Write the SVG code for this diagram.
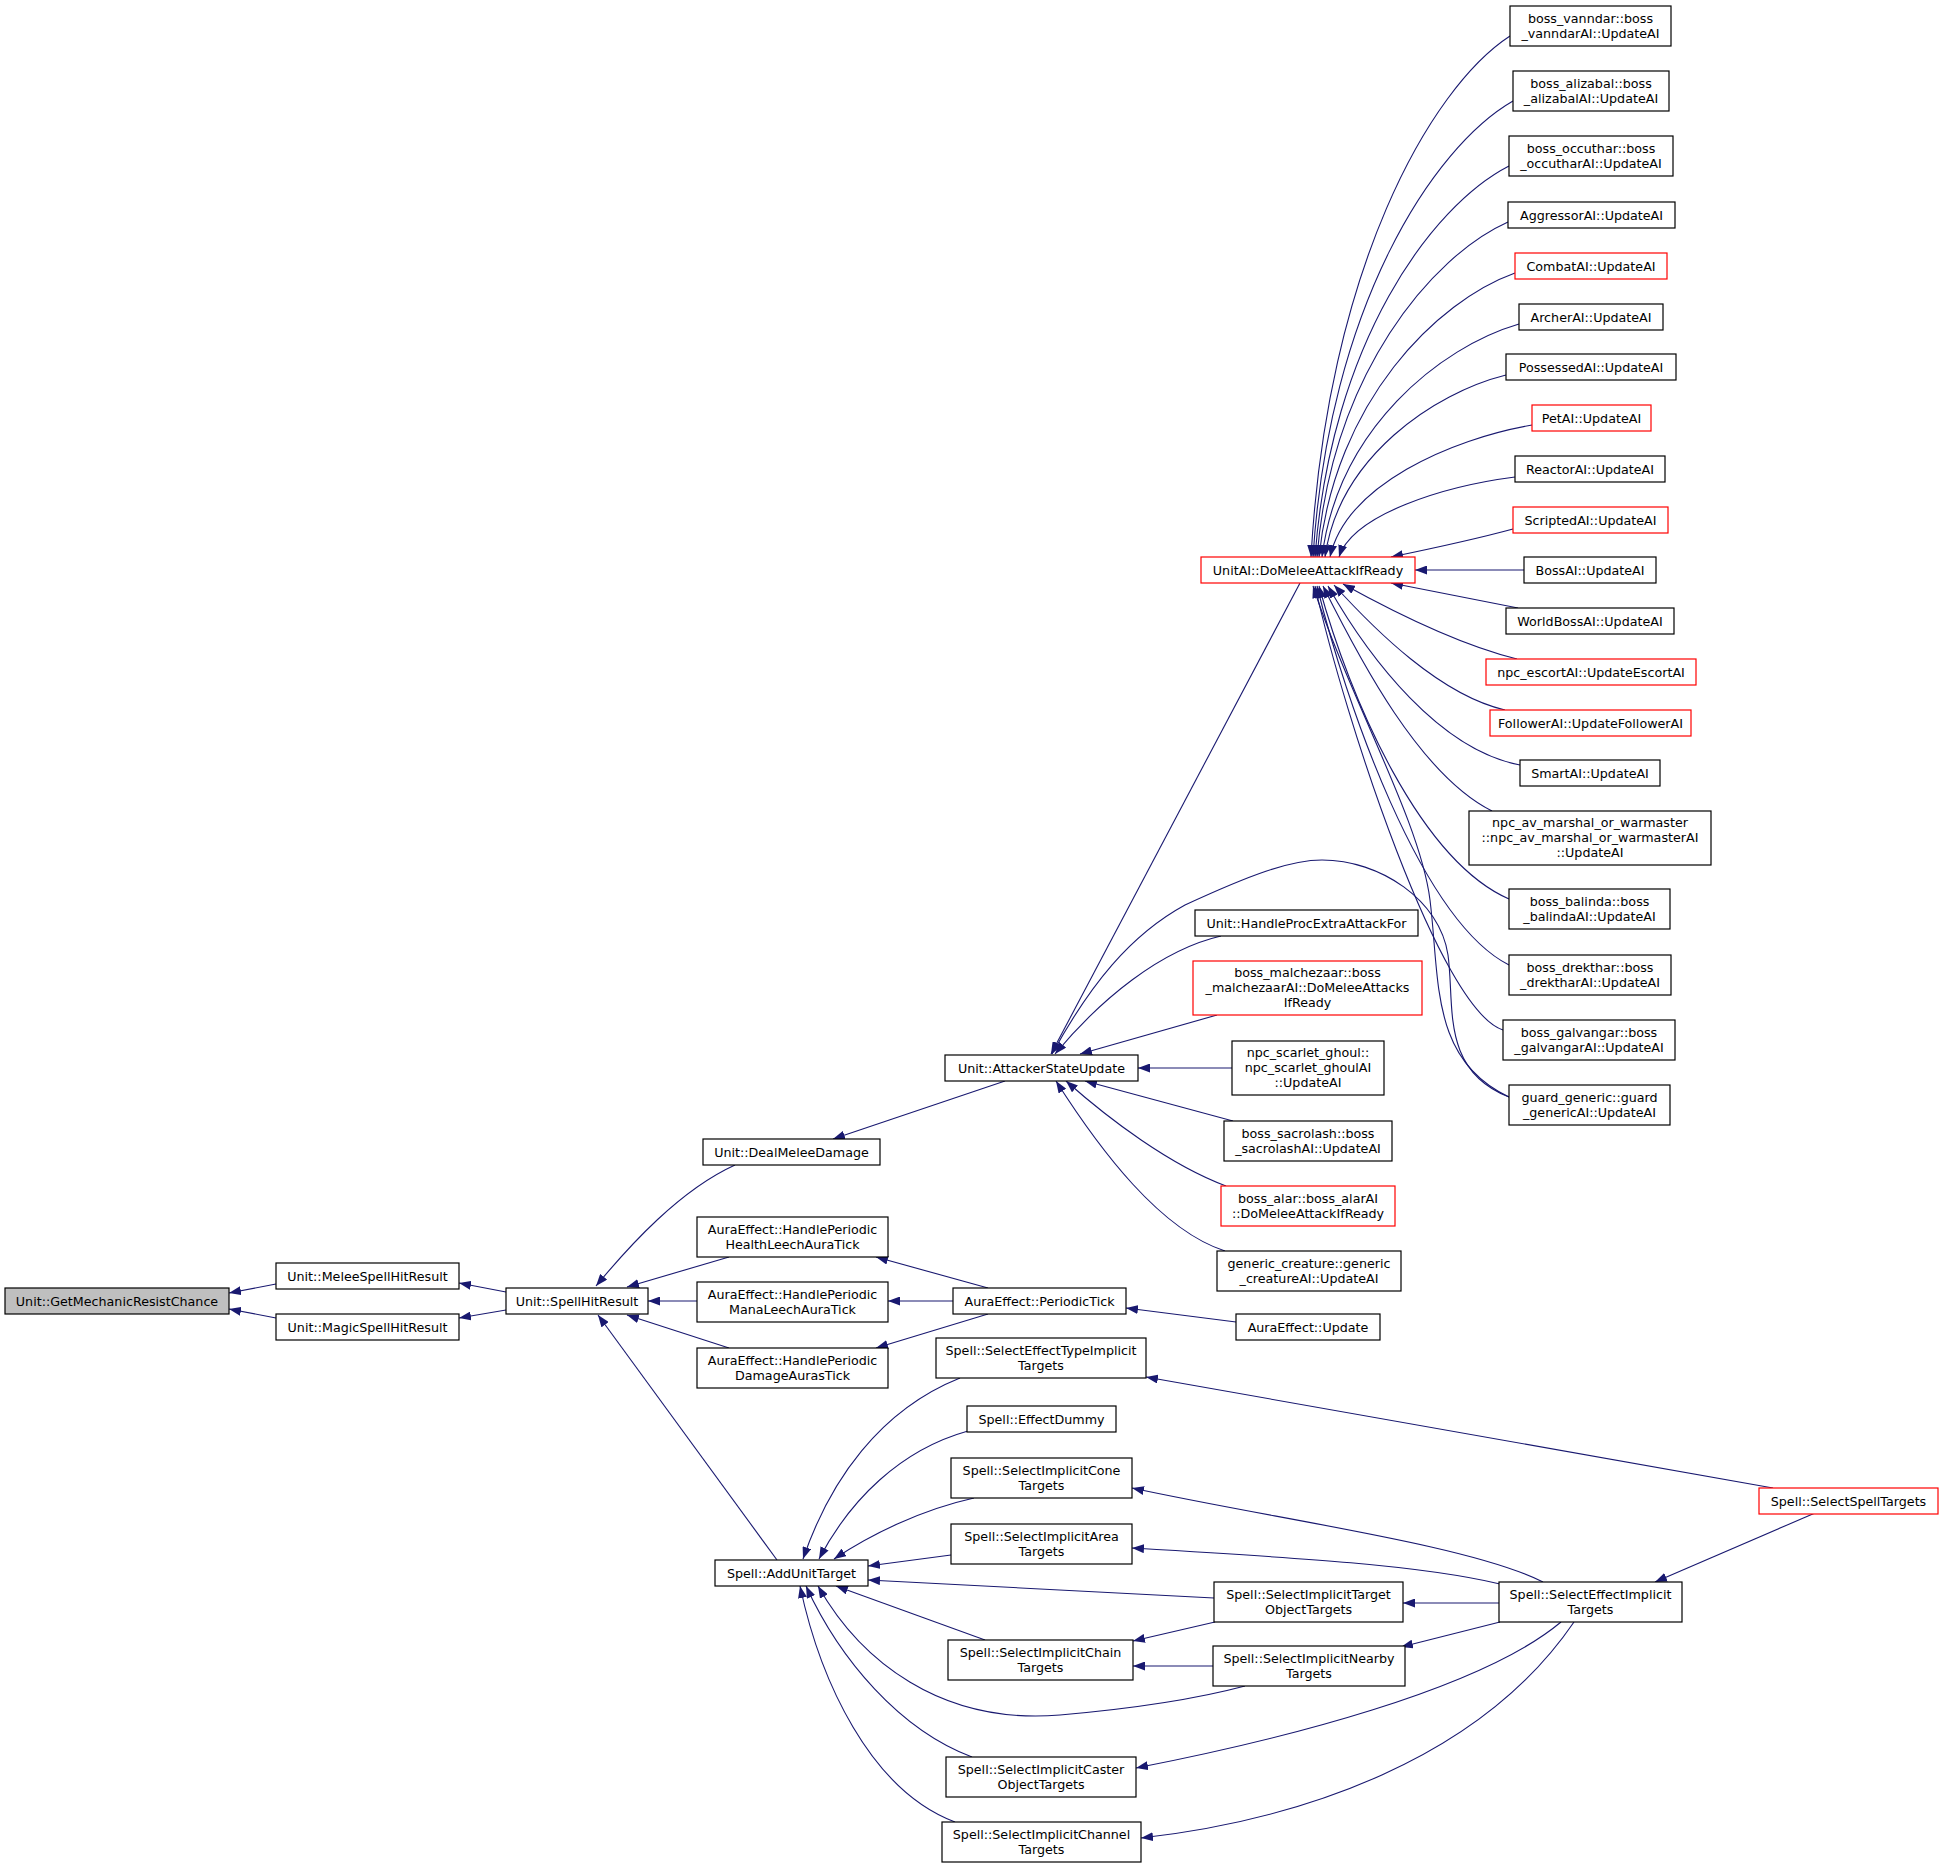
<svg xmlns="http://www.w3.org/2000/svg" width="1944" height="1869" viewBox="0 0 1944 1869">
<style>
.n rect{fill:#fff;stroke:#000;stroke-width:1.2}
.n.r rect{stroke:#ff0000}
.n.g rect{fill:#bfbfbf}
.n text{font-family:"DejaVu Sans",sans-serif;font-size:12.7px;fill:#000;text-anchor:middle}
#edges path{fill:none;stroke:#191970;stroke-width:1.1;marker-start:url(#ah)}
</style>
<defs>
<marker id="ah" markerWidth="12" markerHeight="9" refX="12" refY="4.5" orient="auto-start-reverse" markerUnits="userSpaceOnUse" viewBox="0 0 12 9">
<path d="M0,0 L12,4.5 L0,9 z" fill="#191970"/>
</marker>
</defs>
<rect width="1944" height="1869" fill="#fff"/>
<g id="edges">
<path d="M229,1293 L276,1284"/>
<path d="M229,1309 L276,1318"/>
<path d="M459,1283 L506,1292"/>
<path d="M459,1318 L506,1310"/>
<path d="M596,1286 C630,1245 680,1190 735,1165"/>
<path d="M627,1287 L729,1257"/>
<path d="M648,1301 L697,1301"/>
<path d="M627,1315 L729,1348"/>
<path d="M598,1315 L777,1560"/>
<path d="M833,1139 L1005,1081"/>
<path d="M876,1257 L988,1288"/>
<path d="M888,1301 L953,1301"/>
<path d="M876,1348 L988,1314"/>
<path d="M1126,1308 L1236,1322"/>
<path d="M1051,1054 L1300,583"/>
<path d="M1055,1054 C1100,1000 1160,950 1221,936"/>
<path d="M1080,1054 L1217,1015"/>
<path d="M1138,1068 L1232,1068"/>
<path d="M1085,1081 L1233,1121"/>
<path d="M1066,1081 C1110,1120 1170,1165 1226,1186"/>
<path d="M1056,1081 C1100,1150 1160,1230 1225,1251"/>
<path d="M1052,1054 C1090,985 1130,935 1185,905 C1250,875 1290,860 1322,860 C1380,860 1440,900 1448,955 C1455,1005 1440,1070 1509,1097"/>
<path d="M1311,557 C1327,270 1430,88 1510,36"/>
<path d="M1313,557 C1329,306 1433,147 1513,101"/>
<path d="M1315,557 C1331,343 1431,206 1509,166"/>
<path d="M1317,557 C1332,373 1432,256 1508,222"/>
<path d="M1319,557 C1335,401 1437,301 1515,273"/>
<path d="M1322,557 C1338,429 1440,347 1519,324"/>
<path d="M1325,557 C1339,457 1434,393 1506,375"/>
<path d="M1330,557 C1346,485 1451,439 1532,425"/>
<path d="M1339,557 C1353,514 1445,486 1515,477"/>
<path d="M1391,557 C1420,551 1480,538 1513,529"/>
<path d="M1415,570 L1524,570"/>
<path d="M1391,583 L1518,608"/>
<path d="M1343,584 C1390,610 1460,645 1517,659"/>
<path d="M1334,585 C1375,630 1440,695 1505,710"/>
<path d="M1328,586 C1370,660 1440,750 1520,765"/>
<path d="M1323,586 C1360,660 1420,775 1492,811"/>
<path d="M1319,586 C1350,700 1420,860 1509,899"/>
<path d="M1317,586 C1345,700 1420,920 1509,965"/>
<path d="M1315,586 C1345,720 1440,1010 1503,1030"/>
<path d="M1313,586 C1350,700 1420,820 1430,900 C1440,980 1430,1060 1509,1097"/>
<path d="M803,1559 C830,1480 880,1410 960,1378"/>
<path d="M819,1559 C850,1500 900,1450 968,1431"/>
<path d="M834,1559 C870,1535 920,1510 974,1498"/>
<path d="M868,1566 L951,1555"/>
<path d="M868,1580 L1214,1598"/>
<path d="M836,1586 L985,1640"/>
<path d="M818,1586 C860,1660 940,1725 1060,1715 C1140,1708 1200,1698 1245,1686"/>
<path d="M806,1586 C840,1660 900,1730 972,1757"/>
<path d="M800,1586 C820,1680 870,1790 955,1822"/>
<path d="M1146,1377 L1773,1488"/>
<path d="M1655,1582 L1815,1513"/>
<path d="M1132,1488 C1280,1520 1470,1545 1543,1582"/>
<path d="M1132,1548 C1300,1558 1420,1565 1500,1584"/>
<path d="M1403,1603 L1499,1603"/>
<path d="M1133,1641 L1215,1622"/>
<path d="M1133,1666 L1213,1666"/>
<path d="M1401,1647 L1500,1622"/>
<path d="M1136,1768 C1280,1740 1480,1690 1561,1622"/>
<path d="M1141,1838 C1300,1820 1480,1760 1574,1622"/>
</g>
<g id="n_getmech" class="n g"><rect x="5" y="1288" width="224" height="26"/><text x="117" y="1305.5">Unit::GetMechanicResistChance</text></g>
<g id="n_melee" class="n"><rect x="276" y="1263" width="183" height="26"/><text x="367.5" y="1280.5">Unit::MeleeSpellHitResult</text></g>
<g id="n_magic" class="n"><rect x="276" y="1314" width="183" height="26"/><text x="367.5" y="1331.5">Unit::MagicSpellHitResult</text></g>
<g id="n_shr" class="n"><rect x="506" y="1288" width="142" height="26"/><text x="577" y="1305.5">Unit::SpellHitResult</text></g>
<g id="n_dealmelee" class="n"><rect x="703" y="1139" width="177" height="26"/><text x="791.5" y="1156.5">Unit::DealMeleeDamage</text></g>
<g id="n_healthleech" class="n"><rect x="697" y="1217" width="191" height="40"/><text x="792.5" y="1233.5">AuraEffect::HandlePeriodic</text><text x="792.5" y="1248.5">HealthLeechAuraTick</text></g>
<g id="n_manaleech" class="n"><rect x="697" y="1282" width="191" height="40"/><text x="792.5" y="1298.5">AuraEffect::HandlePeriodic</text><text x="792.5" y="1313.5">ManaLeechAuraTick</text></g>
<g id="n_damageauras" class="n"><rect x="697" y="1348" width="191" height="40"/><text x="792.5" y="1364.5">AuraEffect::HandlePeriodic</text><text x="792.5" y="1379.5">DamageAurasTick</text></g>
<g id="n_addunit" class="n"><rect x="715" y="1560" width="153" height="26"/><text x="791.5" y="1577.5">Spell::AddUnitTarget</text></g>
<g id="n_asu" class="n"><rect x="945" y="1055" width="193" height="26"/><text x="1041.5" y="1072.5">Unit::AttackerStateUpdate</text></g>
<g id="n_periodic" class="n"><rect x="953" y="1288" width="173" height="26"/><text x="1039.5" y="1305.5">AuraEffect::PeriodicTick</text></g>
<g id="n_seti" class="n"><rect x="936" y="1338" width="210" height="40"/><text x="1041" y="1354.5">Spell::SelectEffectTypeImplicit</text><text x="1041" y="1369.5">Targets</text></g>
<g id="n_dummy" class="n"><rect x="967" y="1406" width="149" height="26"/><text x="1041.5" y="1423.5">Spell::EffectDummy</text></g>
<g id="n_cone" class="n"><rect x="951" y="1458" width="181" height="40"/><text x="1041.5" y="1474.5">Spell::SelectImplicitCone</text><text x="1041.5" y="1489.5">Targets</text></g>
<g id="n_area" class="n"><rect x="951" y="1524" width="181" height="40"/><text x="1041.5" y="1540.5">Spell::SelectImplicitArea</text><text x="1041.5" y="1555.5">Targets</text></g>
<g id="n_chain" class="n"><rect x="948" y="1640" width="185" height="40"/><text x="1040.5" y="1656.5">Spell::SelectImplicitChain</text><text x="1040.5" y="1671.5">Targets</text></g>
<g id="n_caster" class="n"><rect x="946" y="1757" width="190" height="40"/><text x="1041" y="1773.5">Spell::SelectImplicitCaster</text><text x="1041" y="1788.5">ObjectTargets</text></g>
<g id="n_channel" class="n"><rect x="942" y="1822" width="199" height="40"/><text x="1041.5" y="1838.5">Spell::SelectImplicitChannel</text><text x="1041.5" y="1853.5">Targets</text></g>
<g id="n_domelee" class="n r"><rect x="1201" y="557" width="214" height="26"/><text x="1308" y="574.5">UnitAI::DoMeleeAttackIfReady</text></g>
<g id="n_procextra" class="n"><rect x="1195" y="910" width="223" height="26"/><text x="1306.5" y="927.5">Unit::HandleProcExtraAttackFor</text></g>
<g id="n_malchezaar" class="n r"><rect x="1193" y="961" width="229" height="54"/><text x="1307.5" y="977">boss_malchezaar::boss</text><text x="1307.5" y="992">_malchezaarAI::DoMeleeAttacks</text><text x="1307.5" y="1007">IfReady</text></g>
<g id="n_scarlet" class="n"><rect x="1232" y="1041" width="152" height="54"/><text x="1308" y="1057">npc_scarlet_ghoul::</text><text x="1308" y="1072">npc_scarlet_ghoulAI</text><text x="1308" y="1087">::UpdateAI</text></g>
<g id="n_sacrolash" class="n"><rect x="1224" y="1121" width="168" height="40"/><text x="1308" y="1137.5">boss_sacrolash::boss</text><text x="1308" y="1152.5">_sacrolashAI::UpdateAI</text></g>
<g id="n_alar" class="n r"><rect x="1221" y="1186" width="174" height="40"/><text x="1308" y="1202.5">boss_alar::boss_alarAI</text><text x="1308" y="1217.5">::DoMeleeAttackIfReady</text></g>
<g id="n_generic" class="n"><rect x="1217" y="1251" width="184" height="40"/><text x="1309" y="1267.5">generic_creature::generic</text><text x="1309" y="1282.5">_creatureAI::UpdateAI</text></g>
<g id="n_auraupdate" class="n"><rect x="1236" y="1314" width="144" height="26"/><text x="1308" y="1331.5">AuraEffect::Update</text></g>
<g id="n_targetobj" class="n"><rect x="1214" y="1582" width="189" height="40"/><text x="1308.5" y="1598.5">Spell::SelectImplicitTarget</text><text x="1308.5" y="1613.5">ObjectTargets</text></g>
<g id="n_nearby" class="n"><rect x="1213" y="1646" width="192" height="40"/><text x="1309" y="1662.5">Spell::SelectImplicitNearby</text><text x="1309" y="1677.5">Targets</text></g>
<g id="n_sei" class="n"><rect x="1499" y="1582" width="183" height="40"/><text x="1590.5" y="1598.5">Spell::SelectEffectImplicit</text><text x="1590.5" y="1613.5">Targets</text></g>
<g id="n_sst" class="n r"><rect x="1759" y="1488" width="179" height="26"/><text x="1848.5" y="1505.5">Spell::SelectSpellTargets</text></g>
<g id="n_vanndar" class="n"><rect x="1510" y="6" width="161" height="40"/><text x="1590.5" y="22.5">boss_vanndar::boss</text><text x="1590.5" y="37.5">_vanndarAI::UpdateAI</text></g>
<g id="n_alizabal" class="n"><rect x="1513" y="71" width="156" height="40"/><text x="1591" y="87.5">boss_alizabal::boss</text><text x="1591" y="102.5">_alizabalAI::UpdateAI</text></g>
<g id="n_occuthar" class="n"><rect x="1509" y="136" width="164" height="40"/><text x="1591" y="152.5">boss_occuthar::boss</text><text x="1591" y="167.5">_occutharAI::UpdateAI</text></g>
<g id="n_aggressor" class="n"><rect x="1508" y="202" width="167" height="26"/><text x="1591.5" y="219.5">AggressorAI::UpdateAI</text></g>
<g id="n_combat" class="n r"><rect x="1515" y="253" width="152" height="26"/><text x="1591" y="270.5">CombatAI::UpdateAI</text></g>
<g id="n_archer" class="n"><rect x="1519" y="304" width="144" height="26"/><text x="1591" y="321.5">ArcherAI::UpdateAI</text></g>
<g id="n_possessed" class="n"><rect x="1506" y="354" width="170" height="26"/><text x="1591" y="371.5">PossessedAI::UpdateAI</text></g>
<g id="n_petai" class="n r"><rect x="1532" y="405" width="119" height="26"/><text x="1591.5" y="422.5">PetAI::UpdateAI</text></g>
<g id="n_reactor" class="n"><rect x="1515" y="456" width="150" height="26"/><text x="1590" y="473.5">ReactorAI::UpdateAI</text></g>
<g id="n_scripted" class="n r"><rect x="1513" y="507" width="155" height="26"/><text x="1590.5" y="524.5">ScriptedAI::UpdateAI</text></g>
<g id="n_bossai" class="n"><rect x="1524" y="557" width="132" height="26"/><text x="1590" y="574.5">BossAI::UpdateAI</text></g>
<g id="n_worldboss" class="n"><rect x="1506" y="608" width="168" height="26"/><text x="1590" y="625.5">WorldBossAI::UpdateAI</text></g>
<g id="n_escort" class="n r"><rect x="1486" y="659" width="210" height="26"/><text x="1591" y="676.5">npc_escortAI::UpdateEscortAI</text></g>
<g id="n_follower" class="n r"><rect x="1490" y="710" width="201" height="26"/><text x="1590.5" y="727.5">FollowerAI::UpdateFollowerAI</text></g>
<g id="n_smartai" class="n"><rect x="1520" y="760" width="140" height="26"/><text x="1590" y="777.5">SmartAI::UpdateAI</text></g>
<g id="n_npcav" class="n"><rect x="1469" y="811" width="242" height="54"/><text x="1590" y="827">npc_av_marshal_or_warmaster</text><text x="1590" y="842">::npc_av_marshal_or_warmasterAI</text><text x="1590" y="857">::UpdateAI</text></g>
<g id="n_balinda" class="n"><rect x="1509" y="889" width="161" height="40"/><text x="1589.5" y="905.5">boss_balinda::boss</text><text x="1589.5" y="920.5">_balindaAI::UpdateAI</text></g>
<g id="n_drekthar" class="n"><rect x="1509" y="955" width="162" height="40"/><text x="1590" y="971.5">boss_drekthar::boss</text><text x="1590" y="986.5">_drektharAI::UpdateAI</text></g>
<g id="n_galvangar" class="n"><rect x="1503" y="1020" width="172" height="40"/><text x="1589" y="1036.5">boss_galvangar::boss</text><text x="1589" y="1051.5">_galvangarAI::UpdateAI</text></g>
<g id="n_guard" class="n"><rect x="1509" y="1085" width="161" height="40"/><text x="1589.5" y="1101.5">guard_generic::guard</text><text x="1589.5" y="1116.5">_genericAI::UpdateAI</text></g>
</svg>
